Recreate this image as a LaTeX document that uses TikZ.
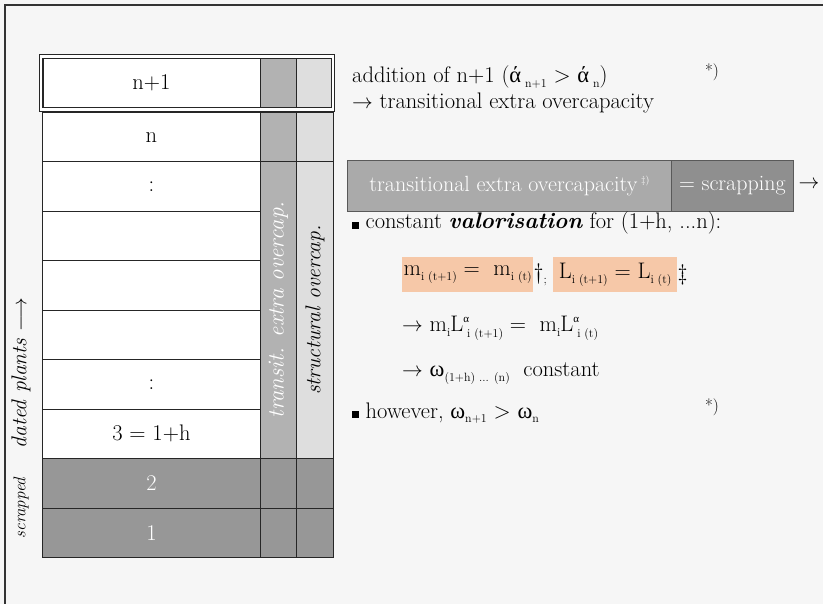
\documentclass[tikz,border=0pt]{standalone}
\usepackage{fontspec}
\setmainfont{Latin Modern Roman}
\newfontfamily\grk{Liberation Serif}
\definecolor{bg}{HTML}{F6F6F6}
\definecolor{midgrey}{HTML}{B2B2B2}
\definecolor{lightgrey}{HTML}{DEDEDE}
\definecolor{darkgrey}{HTML}{979797}
\definecolor{boxgrey}{HTML}{AAAAAA}
\definecolor{boxdark}{HTML}{8F8F8F}
\definecolor{peach}{HTML}{F6C8A8}
\newcommand{\msz}{\fontsize{22.5}{26}\selectfont}
\newcommand{\lowsub}[1]{\raisebox{-0.5ex}{\fontsize{12}{13}\selectfont #1}}
\newcommand{\supsub}[2]{\makebox[0pt][l]{\raisebox{1.0ex}{\fontsize{11}{12}\selectfont\grk #1}}\raisebox{-0.55ex}{\fontsize{12}{13}\selectfont #2}}
\newcommand{\sqbul}{\rule{0.3em}{0.3em}}
\begin{document}
\begin{tikzpicture}[x=1pt,y=-1pt,
  txt/.style={inner sep=0pt, font=\msz, text=black},
  cell/.style={draw=black!85, line width=0.9pt, minimum width=218pt, minimum height=49.44pt, inner sep=0pt, font=\msz, fill=white, anchor=north west},
  colcell/.style={draw=black!85, line width=0.9pt, inner sep=0pt, anchor=north west},
  hl/.style={fill=peach, inner sep=0pt, minimum height=35pt, anchor=north west, font=\msz},
  grbox/.style={draw=black!65, line width=0.8pt, inner sep=0pt, minimum height=51pt, anchor=north west, font=\fontsize{22}{26}\selectfont, text=white},
  rot/.style={inner sep=0pt, rotate=90, font=\fontsize{21.5}{22}\selectfont\itshape},
  star/.style={inner sep=0pt, font=\fontsize{17}{18}\selectfont}
]
\useasboundingbox (0,0) rectangle (823,604);
\fill[bg] (0,0) rectangle (823,604);
\draw[line width=1.3pt, black!80] (5,604) -- (5,5) -- (823,5);

% columns
\node[colcell, fill=midgrey, minimum width=36pt, minimum height=400.08pt] (tcol) at (260,58) {};
\node[colcell, fill=lightgrey, minimum width=37pt, minimum height=400.08pt] (scol) at (296,58) {};

% rows
\node[cell, draw=none, minimum height=49pt] (r0) at (42,58) {n+1};
\node[cell] (r1) at (42,112) {n};
\node[cell] (r2) at (42,161.44) {:};
\node[cell] (r3) at (42,210.88) {};
\node[cell] (r4) at (42,260.32) {};
\node[cell] (r5) at (42,309.76) {};
\node[cell] (r6) at (42,359.2) {:};
\node[cell] (r7) at (42,408.64) {3 = 1+h};
\node[cell, fill=darkgrey, text=white] (r8) at (42,458.08) {2};
\node[cell, fill=darkgrey, text=white] (r9) at (42,507.52) {1};
\node[colcell, fill=darkgrey, minimum width=36pt, minimum height=49.44pt] (t8) at (260,458.08) {};
\node[colcell, fill=darkgrey, minimum width=36pt, minimum height=49.44pt] (t9) at (260,507.52) {};
\node[colcell, fill=darkgrey, minimum width=37pt, minimum height=49.44pt] (s8) at (296,458.08) {};
\node[colcell, fill=darkgrey, minimum width=37pt, minimum height=49.44pt] (s9) at (296,507.52) {};
\draw[line width=0.9pt, black!85] (r2.north east) -- (scol.east |- r2.north);
\draw[line width=0.9pt, black!85] (r1.north east) -- (scol.east |- r1.north);
\draw[line width=1.1pt, black!85, double=white, double distance=2.2pt] (41.3,56.5) rectangle (333.2,109.6);

% rotated labels
\node[rot, text=white, font=\fontsize{23}{24}\selectfont\itshape] (tlab) at (278.5,310) {transit. extra overcap.};
\node[rot, text=black] (slab) at (315,310) {structural overcap.};
\node[rot] (dated) at (21,373) {dated plants $\longrightarrow$};
\node[rot, font=\fontsize{17}{18}\selectfont\itshape] (scr) at (21,508) {scrapped};

% right side
\node[txt, anchor=base west] (add) at (352,82.5) {addition of n+1 ({\grk ά}\lowsub{ n+1} > {\grk ά}\lowsub{ n})};
\node[txt, anchor=base west] (trans) at (352,108.5) {$\rightarrow$ transitional extra overcapacity};
\node[star] (st1) at (712,72) {*)};

\node[grbox, fill=boxgrey, minimum width=324pt] (teo) at (347,160) {transitional extra overcapacity\,\raisebox{0.9ex}{\fontsize{10}{10}\selectfont ‡)}};
\node[grbox, fill=boxdark, minimum width=122pt] (scrap) at (671,160) {= scrapping};
\node[txt] (arr) at (809,185) {$\rightarrow$};

\node[txt, anchor=base west] (val) at (352,229) {\sqbul\ constant \textbf{\textit{valorisation}} for (1+h, ...n):};
\node[hl, minimum width=131pt] (hl1) at (402,257) {m\lowsub{i (t+1)} = \ m\lowsub{i (t)}};
\node[txt, anchor=west] (dag) at (hl1.east) {\textdagger\lowsub{;}};
\node[hl, minimum width=124pt] (hl2) at (553,257) {L\lowsub{i (t+1)} = L\lowsub{i (t)}};
\node[txt, anchor=west] (ddag) at (hl2.east) {\textdaggerdbl};
\node[txt, anchor=base west] (eq2) at (402,332) {$\rightarrow$ m\lowsub{i}L\supsub{α}{ i (t+1)} = \ m\lowsub{i}L\supsub{α}{ i (t)}};
\node[txt, anchor=base west] (eq3) at (402,377) {$\rightarrow$ {\grk ω}\lowsub{(1+h) ... (n)}\ \ constant};
\node[txt, anchor=base west] (how) at (352,418) {\sqbul\ however, {\grk ω}\lowsub{n+1} > {\grk ω}\lowsub{n}};
\node[star] (st2) at (712,407) {*)};
\end{tikzpicture}
\end{document}
